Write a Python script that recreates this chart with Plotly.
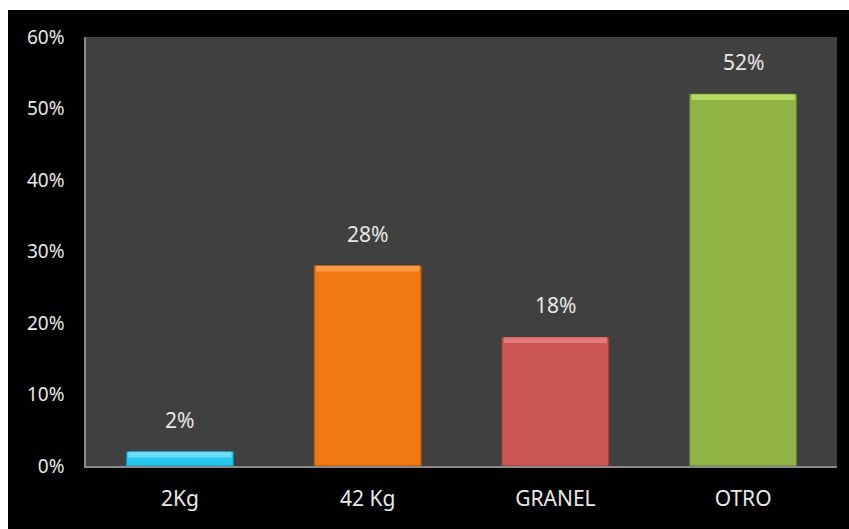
import plotly.graph_objects as go

categories = ["2Kg", "42 Kg", "GRANEL", "OTRO"]
values = [2, 28, 18, 52]
labels = ["2%", "28%", "18%", "52%"]
bar_colors = ["#22c6ee", "#f07812", "#cd5657", "#8fb344"]
cap_colors = ["#6cdcfa", "#f99a45", "#e27a7a", "#b4dc62"]
edge_colors = ["#0e88a8", "#a84e06", "#8e3434", "#5f7a2a"]
y_ticks = [0, 10, 20, 30, 40, 50, 60]
y_tick_text = ["0%", "10%", "20%", "30%", "40%", "50%", "60%"]

font_family = "Noto Sans, Open Sans, sans-serif"
text_color = "#e8e8e8"
cap = 0.8  # thickness of the highlighted bevel at the top of each bar

fig = go.Figure()
fig.add_trace(go.Bar(
    x=categories, y=values,
    marker=dict(color=bar_colors, line=dict(color=edge_colors, width=1)),
    width=0.57, hoverinfo="skip",
))
fig.add_trace(go.Bar(
    x=categories, y=[cap] * len(values), base=[v - cap for v in values],
    marker=dict(color=cap_colors, line=dict(width=0)),
    width=0.55, hoverinfo="skip",
))

for c, v, t in zip(categories, values, labels):
    fig.add_annotation(x=c, y=v, text=t, showarrow=False, yanchor="bottom",
                       yshift=16, font=dict(family=font_family, size=21, color=text_color))

# black chart panel (leaves a thin white edge at top and left), then the grey plot area
fig.add_shape(type="rect", xref="paper", yref="paper", layer="below",
              x0=-78 / 751, x1=1 + 12 / 751, y0=-63 / 429, y1=1 + 27 / 429,
              fillcolor="black", line=dict(width=0))
fig.add_shape(type="rect", xref="x domain", yref="y domain", layer="below",
              x0=0, x1=1, y0=0, y1=1,
              fillcolor="#404040", line=dict(width=0))

fig.update_layout(
    width=849, height=529,
    margin=dict(l=86, r=12, t=37, b=63),
    paper_bgcolor="white", plot_bgcolor="#404040",
    barmode="overlay", showlegend=False, bargap=0.43,
    font=dict(family=font_family, size=20, color=text_color),
    xaxis=dict(showline=True, linecolor="#8a8a8a", linewidth=1.5, ticks="",
               ticklabelstandoff=13,
               tickfont=dict(size=21, color=text_color), showgrid=False),
    yaxis=dict(range=[0, 60], tickvals=y_ticks, ticktext=y_tick_text,
               showline=True, linecolor="#8a8a8a", linewidth=1.5, showgrid=False,
               zeroline=False, ticks="", ticklabelstandoff=16,
               tickfont=dict(size=19, color=text_color)),
)

fig.write_html("out.html")
